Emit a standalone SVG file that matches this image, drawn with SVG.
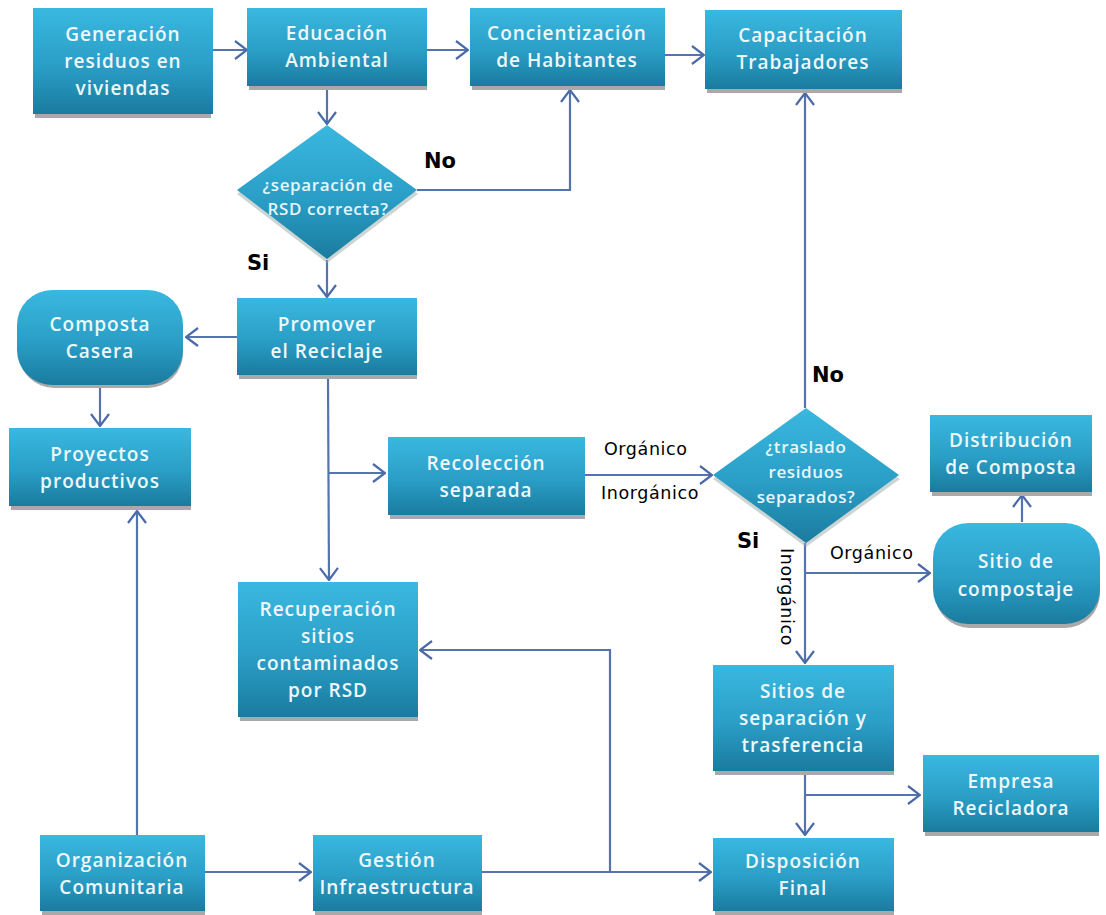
<svg xmlns="http://www.w3.org/2000/svg" width="1106" height="915" viewBox="0 0 1106 915">
<defs>
<linearGradient id="g" x1="0" y1="0" x2="0" y2="1">
<stop offset="0" stop-color="#3ab8e0"/>
<stop offset="0.55" stop-color="#2a9ec6"/>
<stop offset="1" stop-color="#1a7b9e"/>
</linearGradient>
<marker id="ah" viewBox="0 0 14 20" refX="13" refY="10" markerWidth="14" markerHeight="20" markerUnits="userSpaceOnUse" orient="auto">
<path d="M1,1 L13,10 L1,19" fill="none" stroke="#4a6aa8" stroke-width="2.2"/>
</marker>
</defs>
<style>
.n{fill:url(#g)}
.sh{fill:#a9a9a9}
.t{font-family:"Open Sans","Liberation Sans",sans-serif;font-weight:600;font-size:19px;fill:#eef8fb;text-anchor:middle;letter-spacing:1px}
.dt{font-family:"Open Sans","Liberation Sans",sans-serif;font-weight:600;font-size:17px;fill:#e6f6fa;text-anchor:middle;letter-spacing:0.6px}
.c{fill:none;stroke:#5573ad;stroke-width:2.2}
.a{marker-end:url(#ah)}
.lb{font-family:"DejaVu Sans",sans-serif;font-weight:bold;font-size:21px;fill:#000}
.lr{font-family:"DejaVu Sans",sans-serif;font-size:17.5px;fill:#000;letter-spacing:0.6px}
</style>
<rect width="1106" height="915" fill="#fff"/>
<g id="connectors">
<path class="c a" d="M212,50 L247,50"/>
<path class="c a" d="M427,50 L468,50"/>
<path class="c a" d="M665,55 L704,55"/>
<path class="c a" d="M327,88 L327,124"/>
<path class="c a" d="M417,190 L570,190 L570,90"/>
<path class="c a" d="M327,260 L327,297"/>
<path class="c a" d="M237,337 L186,337"/>
<path class="c a" d="M100,386 L100,426"/>
<path class="c a" d="M328,378 L329,580"/>
<path class="c a" d="M329,473 L385,473"/>
<path class="c a" d="M585,475 L712,475"/>
<path class="c a" d="M805,408 L805,93"/>
<path class="c a" d="M805,543 L805,663"/>
<path class="c a" d="M805,573 L930,573"/>
<path class="c a" d="M1022,522 L1022,495"/>
<path class="c a" d="M805,775 L805,835"/>
<path class="c a" d="M805,795 L920,795"/>
<path class="c a" d="M137,835 L137,511"/>
<path class="c a" d="M205,872 L311,872"/>
<path class="c a" d="M482,872 L711,872"/>
<path class="c a" d="M610,872 L610,650 L420,650"/>
<text class="lb" x="424" y="168">No</text>
<text class="lb" x="247" y="270">Si</text>
<text class="lb" x="812" y="382">No</text>
<text class="lb" x="737" y="548">Si</text>
<text class="lr" x="604" y="455">Orgánico</text>
<text class="lr" x="601" y="499">Inorgánico</text>
<text class="lr" x="830" y="559">Orgánico</text>
<text class="lr" transform="translate(781,548) rotate(90)">Inorgánico</text>
</g>
<g id="n1"><rect class="sh" x="35" y="12" width="176" height="106"/><rect class="n" x="33" y="8" width="180" height="106"/>
<text class="t" x="123" y="41">Generación</text><text class="t" x="123" y="68">residuos en</text><text class="t" x="123" y="95">viviendas</text></g>
<g id="n2"><rect class="sh" x="249" y="12" width="178" height="78"/><rect class="n" x="247" y="8" width="180" height="78"/>
<text class="t" x="337" y="40">Educación</text><text class="t" x="337" y="67">Ambiental</text></g>
<g id="n3"><rect class="sh" x="472" y="12" width="193" height="78"/><rect class="n" x="470" y="8" width="195" height="78"/>
<text class="t" x="567" y="40">Concientización</text><text class="t" x="567" y="67">de Habitantes</text></g>
<g id="n4"><rect class="sh" x="707" y="14" width="195" height="79"/><rect class="n" x="705" y="10" width="197" height="79"/>
<text class="t" x="803" y="42">Capacitación</text><text class="t" x="803" y="69">Trabajadores</text></g>
<g id="d1"><path d="M327,128 L418,194 L327,263 L237,194 Z" fill="#9aa" opacity="0.5"/><path class="n" d="M327,125 L417,190 L327,259 L237,190 Z"/>
<text class="dt" x="328" y="191">¿separación de</text><text class="dt" x="328" y="215">RSD correcta?</text></g>
<g id="n5"><rect class="sh" x="19" y="294" width="164" height="94" rx="35"/><rect class="n" x="17" y="290" width="166" height="95" rx="35"/>
<text class="t" x="100" y="331">Composta</text><text class="t" x="100" y="358">Casera</text></g>
<g id="n6"><rect class="sh" x="239" y="302" width="178" height="77"/><rect class="n" x="237" y="298" width="180" height="77"/>
<text class="t" x="327" y="331">Promover</text><text class="t" x="327" y="358">el Reciclaje</text></g>
<g id="n7"><rect class="sh" x="11" y="432" width="180" height="78"/><rect class="n" x="9" y="428" width="182" height="78"/>
<text class="t" x="100" y="461">Proyectos</text><text class="t" x="100" y="488">productivos</text></g>
<g id="n8"><rect class="sh" x="390" y="441" width="195" height="78"/><rect class="n" x="388" y="437" width="197" height="78"/>
<text class="t" x="486" y="470">Recolección</text><text class="t" x="486" y="497">separada</text></g>
<g id="d2"><path d="M806,411 L900,479 L806,547 L713,479 Z" fill="#9aa" opacity="0.5"/><path class="n" d="M806,408 L899,475 L806,543 L713,475 Z"/>
<text class="dt" x="806" y="453">¿traslado</text><text class="dt" x="806" y="478">residuos</text><text class="dt" x="806" y="503">separados?</text></g>
<g id="n9"><rect class="sh" x="932" y="419" width="160" height="77"/><rect class="n" x="930" y="415" width="162" height="77"/>
<text class="t" x="1011" y="447">Distribución</text><text class="t" x="1011" y="474">de Composta</text></g>
<g id="n10"><rect class="sh" x="935" y="527" width="165" height="101" rx="35"/><rect class="n" x="933" y="523" width="167" height="101" rx="35"/>
<text class="t" x="1016" y="568">Sitio  de</text><text class="t" x="1016" y="596">compostaje</text></g>
<g id="n11"><rect class="sh" x="240" y="586" width="178" height="135"/><rect class="n" x="238" y="582" width="180" height="135"/>
<text class="t" x="328" y="616">Recuperación</text><text class="t" x="328" y="643">sitios</text><text class="t" x="328" y="670">contaminados</text><text class="t" x="328" y="697">por RSD</text></g>
<g id="n12"><rect class="sh" x="715" y="669" width="179" height="106"/><rect class="n" x="713" y="665" width="181" height="106"/>
<text class="t" x="803" y="698">Sitios de</text><text class="t" x="803" y="725">separación y</text><text class="t" x="803" y="752">trasferencia</text></g>
<g id="n13"><rect class="sh" x="925" y="759" width="174" height="77"/><rect class="n" x="923" y="755" width="176" height="77"/>
<text class="t" x="1011" y="788">Empresa</text><text class="t" x="1011" y="815">Recicladora</text></g>
<g id="n14"><rect class="sh" x="42" y="839" width="163" height="76"/><rect class="n" x="40" y="835" width="165" height="76"/>
<text class="t" x="122" y="867">Organización</text><text class="t" x="122" y="894">Comunitaria</text></g>
<g id="n15"><rect class="sh" x="315" y="839" width="167" height="76"/><rect class="n" x="313" y="835" width="169" height="76"/>
<text class="t" x="397" y="867">Gestión</text><text class="t" x="397" y="894">Infraestructura</text></g>
<g id="n16"><rect class="sh" x="715" y="842" width="179" height="73"/><rect class="n" x="713" y="838" width="181" height="73"/>
<text class="t" x="803" y="868">Disposición</text><text class="t" x="803" y="895">Final</text></g>
</svg>
